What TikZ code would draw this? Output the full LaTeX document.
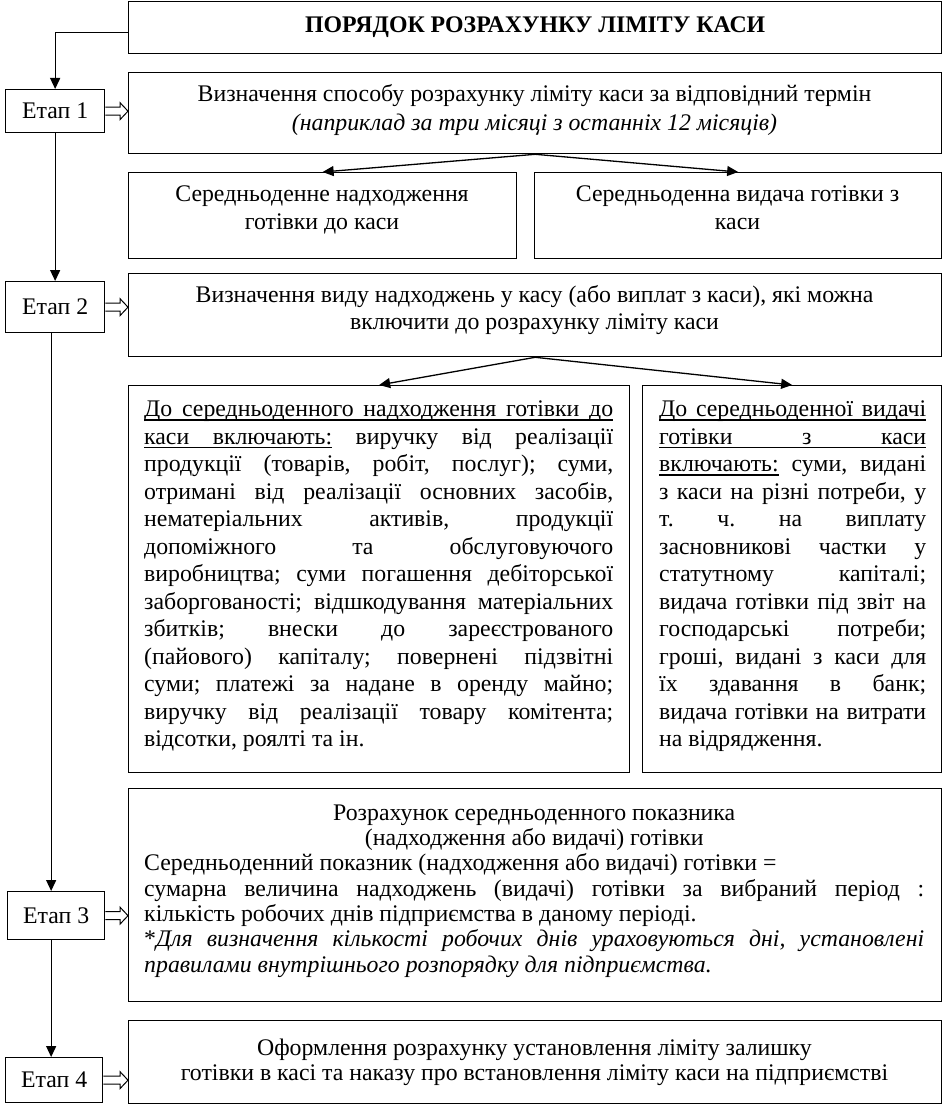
\documentclass[tikz,border=0pt]{standalone}
\usepackage{fontspec}
\setmainfont{Liberation Serif}
\usetikzlibrary{arrows.meta,calc}
\frenchspacing
\newsavebox\ulbox
\newcommand\ulw[1]{\sbox\ulbox{#1}\rlap{\vrule height -2.4pt depth 3.6pt width\wd\ulbox}\usebox\ulbox}
\newcommand\ulsp{\leaders\hrule height -2.4pt depth 3.6pt\hskip\fontdimen2\font plus\fontdimen3\font minus\fontdimen4\font\relax}
\newcommand\fsA{\fontsize{23.8pt}{27.5pt}\selectfont}
\newcommand\fsB{\fontsize{23.8pt}{28.5pt}\selectfont}
\newcommand\fsC{\fontsize{23.8pt}{25.3pt}\selectfont}
\newcommand\fsD{\fontsize{23.8pt}{25pt}\selectfont}
\newcommand\JLa[1]{\makebox[469pt][s]{#1}}
\newcommand\JLb[1]{\makebox[267pt][s]{#1}}
\newcommand\JLc[1]{\makebox[780pt][s]{#1}}
\newcommand\CB[2]{\parbox[t]{#1}{\centering\strut #2}}
\newcommand\harrow[2]{\draw[harr] ($(#1.east)+(0,4)$) -- ($(#2.west|-#1.east)+(-8,4)$) -- ($(#2.west|-#1.east)+(-8,8.5)$) -- (#2.west|-#1.east) -- ($(#2.west|-#1.east)+(-8,-8.5)$) -- ($(#2.west|-#1.east)+(-8,-4)$) -- ($(#1.east)+(0,-4)$);}
\begin{document}
\begin{tikzpicture}[x=1pt,y=-1pt,
  box/.style={draw, line width=1.3pt, inner sep=0pt, anchor=north west, font=\fsA},
  txt/.style={inner sep=0pt},
  arr/.style={line width=1.3pt, -{Triangle[length=11pt,width=10pt]}},
  harr/.style={line width=1pt, line join=miter}]
\useasboundingbox (0,0) rectangle (942,1105);

% boxes
\node[box, minimum width=813pt, minimum height=52pt] (title) at (128,1) {\bfseries ПОРЯДОК РОЗРАХУНКУ ЛІМІТУ КАСИ};
\node[box, minimum width=813pt, minimum height=81pt] (s1) at (128,72) {};
\node[box, minimum width=388pt, minimum height=86pt] (sa) at (128,172) {};
\node[box, minimum width=407pt, minimum height=86pt] (sb) at (534,172) {};
\node[box, minimum width=813pt, minimum height=83pt] (s2) at (128,273) {};
\node[box, minimum width=501pt, minimum height=387pt] (ba) at (128,385) {};
\node[box, minimum width=299pt, minimum height=387pt] (bb) at (642,385) {};
\node[box, minimum width=813pt, minimum height=213pt] (s3) at (128,788) {};
\node[box, minimum width=813pt, minimum height=83pt] (s4) at (128,1020) {};

\node[box, minimum width=99pt, minimum height=43pt] (e1) at (5,89) {Етап 1};
\node[box, minimum width=99pt, minimum height=51pt] (e2) at (5,281) {Етап 2};
\node[box, minimum width=97pt, minimum height=48pt] (e3) at (7,891) {Етап 3};
\node[box, minimum width=97pt, minimum height=45pt] (e4) at (5,1057) {Етап 4};

% texts
\node[txt, anchor=north, font=\fsB] (t1) at (534.5,81.5)
  {\CB{800pt}{Визначення способу розрахунку ліміту каси за відповідний термін\\
   \textit{(наприклад за три місяці з останніх 12 місяців)}}};
\node[txt, anchor=north, font=\fsA] (ta) at (322,182.4)
  {\CB{380pt}{Середньоденне надходження\\готівки до каси}};
\node[txt, anchor=north, font=\fsA] (tb) at (737.5,182.4)
  {\CB{400pt}{Середньоденна видача готівки з\\каси}};
\node[txt, anchor=north, font=\fsA] (t2) at (534.5,282.9)
  {\CB{800pt}{Визначення виду надходжень у касу (або виплат з каси), які можна\\
   включити до розрахунку ліміту каси}};
\node[txt, anchor=north west, font=\fsA] (tba) at (144,397.45) {\parbox[t]{469pt}{%
\JLa{\strut\ulw{До}\ulsp\ulw{середньоденного}\ulsp\ulw{надходження}\ulsp\ulw{готівки}\ulsp\ulw{до}}\\
\JLa{\ulw{каси}\ulsp\ulw{включають:} виручку від реалізації}\\
\JLa{продукції (товарів, робіт, послуг); суми,}\\
\JLa{отримані від реалізації основних засобів,}\\
\JLa{нематеріальних активів, продукції}\\
\JLa{допоміжного та обслуговуючого}\\
\JLa{виробництва; суми погашення дебіторської}\\
\JLa{заборгованості; відшкодування матеріальних}\\
\JLa{збитків; внески до зареєстрованого}\\
\JLa{(пайового) капіталу; повернені підзвітні}\\
\JLa{суми; платежі за надане в оренду майно;}\\
\JLa{виручку від реалізації товару комітента;}\\
відсотки, роялті та ін.}};
\node[txt, anchor=north west, font=\fsA] (tbb) at (659,397.45) {\parbox[t]{267pt}{%
\JLb{\strut\ulw{До}\ulsp\ulw{середньоденної}\ulsp\ulw{видачі}}\\
\JLb{\ulw{готівки}\ulsp\ulw{з}\ulsp\ulw{каси}}\\
\JLb{\ulw{включають:} суми, видані}\\
\JLb{з каси на різні потреби, у}\\
\JLb{т. ч. на виплату}\\
\JLb{засновникові частки у}\\
\JLb{статутному капіталі;}\\
\JLb{видача готівки під звіт на}\\
\JLb{господарські потреби;}\\
\JLb{гроші, видані з каси для}\\
\JLb{їх здавання в банк;}\\
\JLb{видача готівки на витрати}\\
на відрядження.}};
\node[txt, anchor=north west, font=\fsC] (t3) at (144,802.3) {\parbox[t]{780pt}{%
\makebox[780pt][c]{\strut Розрахунок середньоденного показника}\\
\makebox[780pt][c]{(надходження або видачі) готівки}\\
Середньоденний показник (надходження або видачі) готівки =\\
\JLc{сумарна величина надходжень (видачі) готівки за вибраний період :}\\
кількість робочих днів підприємства в даному періоді.\\
\JLc{*\textit{Для визначення кількості робочих днів ураховуються дні, установлені}}\\
\textit{правилами внутрішнього розпорядку для підприємства.}}};
\node[txt, anchor=north, font=\fsD] (t4) at (534.5,1038.2)
  {\CB{800pt}{Оформлення розрахунку установлення ліміту залишку\\
   готівки в касі та наказу про встановлення ліміту каси на підприємстві}};

% connectors
\draw[arr] ([yshift=-5pt]title.west) -| (e1.north);
\draw[arr] (e1.south) -- (e2.north);
\draw[arr] ([xshift=-4pt]e2.south) -- ([xshift=-4pt]e2.south |- e3.north);
\draw[arr] ([xshift=-5pt]e3.south) -- ([xshift=-5pt]e3.south |- e4.north);
\draw[arr] (s1.south) -- (sa.north);
\draw[arr] (s1.south) -- (sb.north);
\draw[arr] (s2.south) -- (ba.north);
\draw[arr] (s2.south) -- (bb.north);
\harrow{e1}{s1}
\harrow{e2}{s2}
\harrow{e3}{s3}
\harrow{e4}{s4}
\end{tikzpicture}
\end{document}
